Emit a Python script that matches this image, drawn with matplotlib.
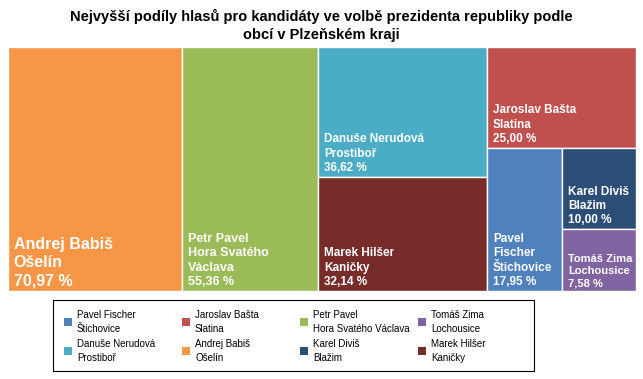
import matplotlib
matplotlib.use("Agg")
import matplotlib.pyplot as plt
from matplotlib.patches import Rectangle

plt.rcParams["font.family"] = ["Liberation Sans", "DejaVu Sans"]

# data (largest first)
candidates = ["Andrej Babiš", "Petr Pavel", "Danuše Nerudová", "Marek Hilšer",
              "Jaroslav Bašta", "Pavel Fischer", "Karel Diviš", "Tomáš Zima"]
towns = ["Ošelín", "Hora Svatého Václava", "Prostiboř", "Kaničky",
         "Slatina", "Štichovice", "Blažim", "Lochousice"]
shares = [70.97, 55.36, 36.62, 32.14, 25.00, 17.95, 10.00, 7.58]
share_text = ["70,97 %", "55,36 %", "36,62 %", "32,14 %",
              "25,00 %", "17,95 %", "10,00 %", "7,58 %"]
# how the tile labels wrap in the original
tile_labels = ["Andrej Babiš\nOšelín", "Petr Pavel\nHora Svatého\nVáclava",
               "Danuše Nerudová\nProstiboř", "Marek Hilšer\nKaničky",
               "Jaroslav Bašta\nSlatina", "Pavel\nFischer\nŠtichovice",
               "Karel Diviš\nBlažim", "Tomáš Zima\nLochousice"]
legend_order = ["Pavel Fischer", "Jaroslav Bašta", "Petr Pavel", "Tomáš Zima",
                "Danuše Nerudová", "Andrej Babiš", "Karel Diviš", "Marek Hilšer"]

colors = ["#F79646", "#9BBB59", "#4BACC6", "#772C2A",
          "#C0504D", "#4F81BD", "#2C4D75", "#8064A2"]
label_sizes = [11.5, 9, 8.5, 8.5, 8.5, 8.5, 8.5, 8]


def worst(row, side):
    s = sum(row)
    return max(max(side * side * r / (s * s), s * s / (side * side * r)) for r in row)


def squarify(areas, x, y, dx, dy):
    rects = []
    areas = list(areas)
    while areas:
        side = min(dx, dy)
        row = [areas[0]]
        i = 1
        while i < len(areas) and worst(row + [areas[i]], side) <= worst(row, side):
            row.append(areas[i])
            i += 1
        areas = areas[i:]
        s = sum(row)
        if dx >= dy:
            w = s / dy
            yy = y
            for a in row:
                rects.append((x, yy, w, a / w))
                yy += a / w
            x += w
            dx -= w
        else:
            h = s / dx
            xx = x
            for a in row:
                rects.append((xx, y, a / h, h))
                xx += a / h
            y += h
            dy -= h
    return rects


W, H = 643, 379
fig = plt.figure(figsize=(W / 100, H / 100), dpi=100)

ax = fig.add_axes([8 / W, 88 / H, 628 / W, 244 / H])
aw, ah = 628, 244
total = sum(shares)
areas = [v / total * aw * ah for v in shares]
rects = squarify(areas, 0, 0, aw, ah)

for (x, y, w, h), lab, pct, c, fs in zip(rects, tile_labels, share_text, colors, label_sizes):
    ax.add_patch(Rectangle((x, y), w, h, facecolor=c, edgecolor="white", linewidth=1))
    ax.annotate(lab + "\n" + pct, xy=(x, y + h), xytext=(4, 2), textcoords="offset points",
                ha="left", va="bottom", color="white", fontweight="bold",
                fontsize=fs, linespacing=1.27)

ax.set_xlim(0, aw)
ax.set_ylim(ah, 0)
ax.axis("off")

fig.text(0.5, 1 - 9 / H,
         "Nejvyšší podíly hlasů pro kandidáty ve volbě prezidenta republiky podle\nobcí v Plzeňském kraji",
         ha="center", va="top", fontsize=10.5, fontweight="bold", linespacing=1.36)

# legend box
lax = fig.add_axes([53 / W, 8 / H, 481 / W, 71 / H])
lax.set_xlim(0, 481)
lax.set_ylim(71, 0)
lax.set_xticks([])
lax.set_yticks([])
for sp in lax.spines.values():
    sp.set_color("black")
    sp.set_linewidth(0.8)

for k, name in enumerate(legend_order):
    i = candidates.index(name)
    col, row = k % 4, k // 4
    cy = 22 + 29 * row
    lax.add_patch(Rectangle((11 + 118 * col, cy - 4), 8, 8, facecolor=colors[i], edgecolor="none"))
    lax.text(24 + 118 * col, cy, name + "\n" + towns[i], ha="left", va="center",
             fontsize=7, linespacing=1.45)

fig.savefig("out.png", dpi=100)
